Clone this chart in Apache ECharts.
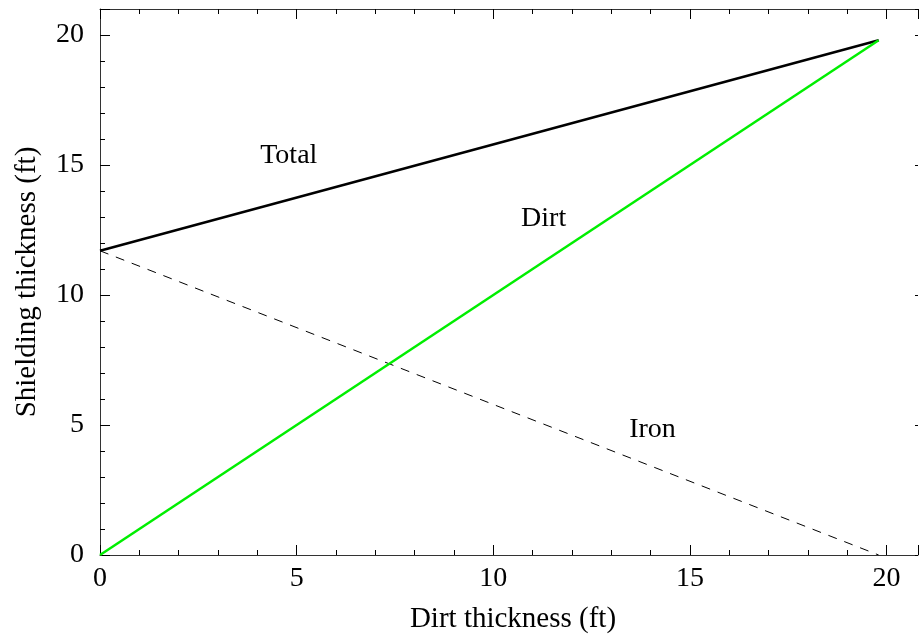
<!DOCTYPE html>
<html><head><meta charset="utf-8">
<script src="https://cdn.jsdelivr.net/npm/echarts@6/dist/echarts.min.js"></script>
<style>html,body{margin:0;padding:0;background:#fff}#c{width:919px;height:639px}</style>
</head><body><div id="c"></div>
<script>
const dirtX = [0, 19.8];
const totalY = [11.7, 19.8];
const dirtY = [0, 19.8];
const ironY = [11.7, 0];
const labelNames = ['Total', 'Dirt', 'Iron'];
const labelX = [4.8, 11.28, 14.05];
const labelY = [15.35, 12.95, 4.84];
const xTicks = [0, 5, 10, 15, 20];
const yTicks = [0, 5, 10, 15, 20];

const FONT = '"Liberation Serif", "DejaVu Serif", serif';
const pts = (ys) => dirtX.map((x, i) => [x, ys[i]]);
const fmtX = v => xTicks.includes(v) ? String(v) : '';
const fmtY = v => yTicks.includes(v) ? String(v) : '';

function axisBase() {
  return {
    type: 'value', min: 0, interval: 5,
    axisLine: { show: true, onZero: false, lineStyle: { color: '#333', width: 1 } },
    axisTick: { show: true, inside: true, length: 10, lineStyle: { color: '#000', width: 1 } },
    minorTick: { show: true, splitNumber: 5, length: 5, lineStyle: { color: '#000', width: 1 } },
    splitLine: { show: false }, minorSplitLine: { show: false }
  };
}

const chart = echarts.init(document.getElementById('c'), null, { renderer: 'canvas' });
chart.setOption({
  animation: false,
  backgroundColor: '#fff',
  grid: { left: 100, top: 9, right: 1, bottom: 79, containLabel: false },
  xAxis: [
    Object.assign(axisBase(), {
      max: 20.8, position: 'bottom',
      name: 'Dirt thickness (ft)', nameLocation: 'middle', nameGap: 50,
      nameTextStyle: { fontFamily: FONT, fontSize: 29, color: '#000', padding: [0, 0, 0, 8] },
      axisLabel: { formatter: fmtX, fontFamily: FONT, fontSize: 28, color: '#000', margin: 10, showMaxLabel: false }
    }),
    Object.assign(axisBase(), {
      max: 20.8, position: 'top', axisLabel: { show: false }
    })
  ],
  yAxis: [
    Object.assign(axisBase(), {
      max: 21, position: 'left',
      name: 'Shielding thickness (ft)', nameLocation: 'middle', nameGap: 58, nameRotate: 90,
      nameTextStyle: { fontFamily: FONT, fontSize: 29, color: '#000' },
      axisLabel: { formatter: fmtY, fontFamily: FONT, fontSize: 28, color: '#000', margin: 16, showMaxLabel: false }
    }),
    Object.assign(axisBase(), {
      max: 21, position: 'right', axisLabel: { show: false },
      axisLine: { show: false, onZero: false },
      axisTick: { show: true, inside: true, length: 3, lineStyle: { color: '#000', width: 1 } },
      minorTick: { show: false }
    })
  ],
  series: [
    { type: 'line', name: 'Total', data: pts(totalY), symbol: 'none',
      lineStyle: { color: '#000', width: 2.5 }, z: 3 },
    { type: 'line', name: 'Dirt', data: pts(dirtY), symbol: 'none',
      lineStyle: { color: '#00ee00', width: 2.5 }, z: 3 },
    { type: 'line', name: 'Iron', data: pts(ironY), symbol: 'none',
      lineStyle: { color: '#000', width: 1, type: [9, 8] }, z: 2 },
    { type: 'scatter', symbolSize: 0, silent: true, itemStyle: { opacity: 1 },
      data: labelNames.map((n, i) => ({ name: n, value: [labelX[i], labelY[i]] })),
      label: { show: true, position: 'inside', formatter: p => p.name, opacity: 1,
        fontFamily: FONT, fontSize: 28, color: '#000' } }
  ]
});
</script></body></html>
